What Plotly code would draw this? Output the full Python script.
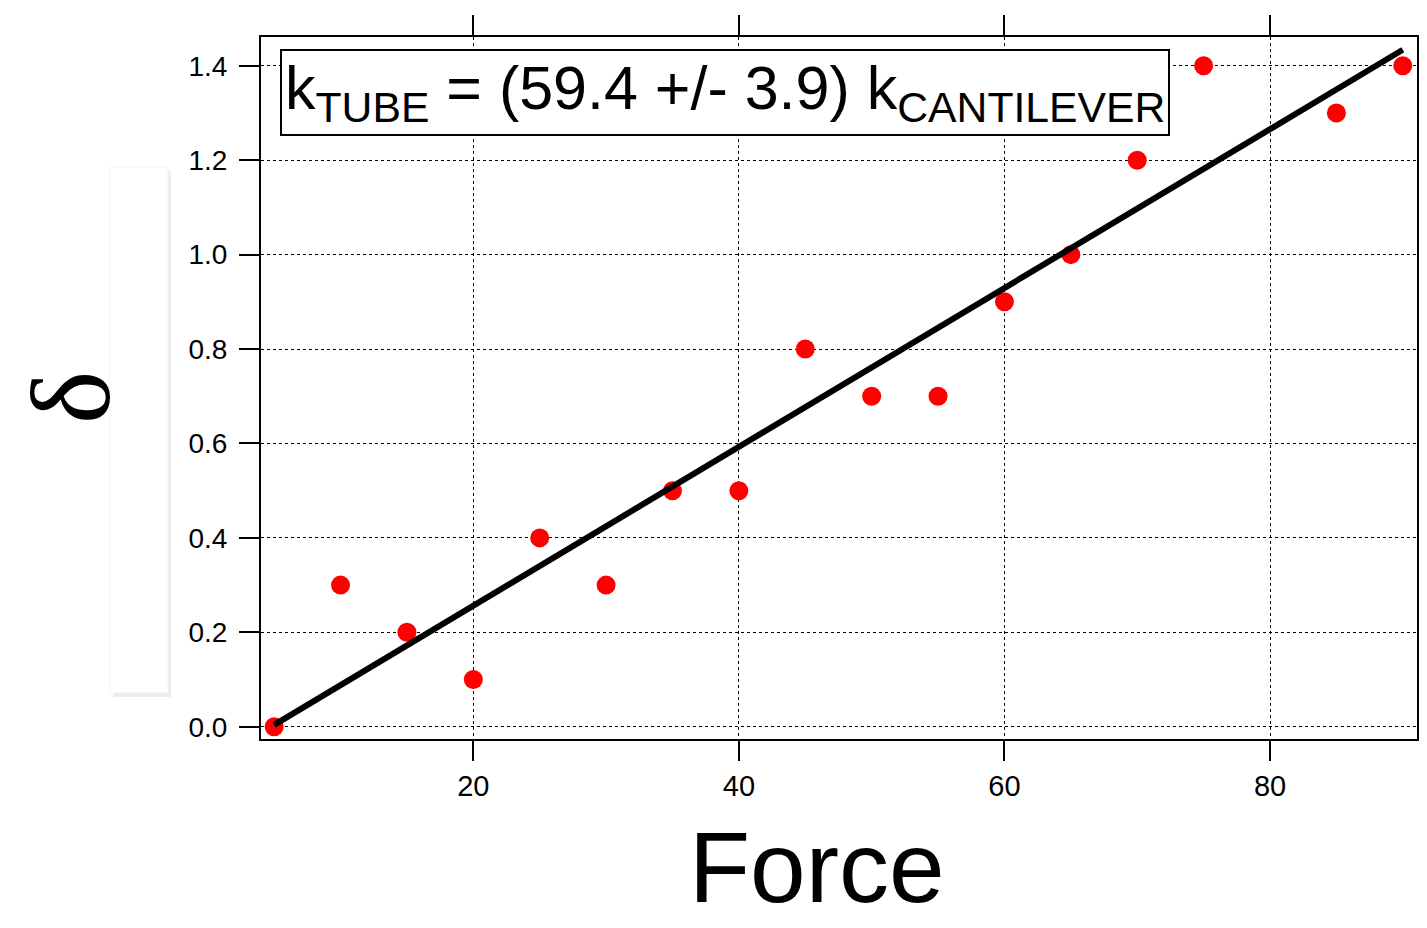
import plotly.graph_objects as go

force = [5, 10, 15, 20, 25, 30, 35, 40, 45, 50, 55, 60, 65, 70, 75, 85, 90]
delta = [0.0, 0.3, 0.2, 0.1, 0.4, 0.3, 0.5, 0.5, 0.8, 0.7, 0.7, 0.9, 1.0, 1.2, 1.4, 1.3, 1.4]
fit_x = [5, 90]
fit_y = [0.004, 1.434]
x_ticks = [20, 40, 60, 80]
y_ticks = [0.0, 0.2, 0.4, 0.6, 0.8, 1.0, 1.2, 1.4]

OFF = 8  # page body margin
W, H = 1427 - OFF, 928 - OFF
L, R, T, B = 261 - OFF, 10, 37 - OFF, 189
pw, ph = W - L - R, H - T - B

def px(xp):
    return (xp - OFF - L) / pw

def py(yp):
    return (H - B - (yp - OFF)) / ph

fig = go.Figure()
fig.add_trace(go.Scatter(x=force, y=delta, mode="markers",
                         marker=dict(color="#ff0000", size=19, line=dict(width=0)),
                         showlegend=False, cliponaxis=False))
fig.add_trace(go.Scatter(x=fit_x, y=fit_y, mode="lines",
                         line=dict(color="black", width=6),
                         showlegend=False, cliponaxis=False))

axis_common = dict(showline=True, linecolor="black", linewidth=2, mirror="ticks",
                   ticks="outside", ticklen=20, tickwidth=2, tickcolor="black",
                   showgrid=True, gridcolor="black", gridwidth=1, griddash="dot",
                   zeroline=False)

fig.update_xaxes(range=[4.01, 91.07], tickvals=x_ticks,
                 ticktext=[str(v) for v in x_ticks],
                 tickfont=dict(family="Liberation Sans, Arial", size=29, color="black"),
                 **axis_common)
fig.update_yaxes(range=[-0.026, 1.461], tickvals=y_ticks,
                 ticktext=[f"{v:.1f}" for v in y_ticks],
                 ticklabelstandoff=6,
                 tickfont=dict(family="Liberation Sans, Arial", size=28, color="black"),
                 **axis_common)

# light shadowed box on the left
fig.add_shape(type="rect", xref="paper", yref="paper",
              x0=px(113), x1=px(171), y0=py(697), y1=py(171),
              fillcolor="#ececec", line=dict(width=0), layer="below")
fig.add_shape(type="rect", xref="paper", yref="paper",
              x0=px(110), x1=px(168), y0=py(693), y1=py(167),
              fillcolor="white", line=dict(color="#f2f2f2", width=1), layer="below")

fig.add_annotation(xref="paper", yref="paper", x=px(280), y=py(49),
                   xanchor="left", yanchor="top", showarrow=False,
                   text="k<sub>TUBE</sub> = (59.4 +/- 3.9) k<sub>CANTILEVER</sub>",
                   font=dict(family="Liberation Sans, Arial", size=61, color="black"),
                   bordercolor="black", borderwidth=2, borderpad=3, bgcolor="white")

fig.add_annotation(xref="paper", yref="paper", x=px(817), y=py(867),
                   xanchor="center", yanchor="middle", showarrow=False,
                   text="Force",
                   font=dict(family="Liberation Sans, Arial", size=100, color="black"))

fig.add_annotation(xref="paper", yref="paper", x=px(70), y=py(398),
                   xanchor="center", yanchor="middle", showarrow=False,
                   textangle=-90, text="δ",
                   font=dict(family="Liberation Serif, DejaVu Serif", size=113, color="black"))

fig.update_layout(width=W, height=H, margin=dict(l=L, r=R, t=T, b=B, autoexpand=False),
                  paper_bgcolor="white", plot_bgcolor="white")

fig.write_html("out.html")
